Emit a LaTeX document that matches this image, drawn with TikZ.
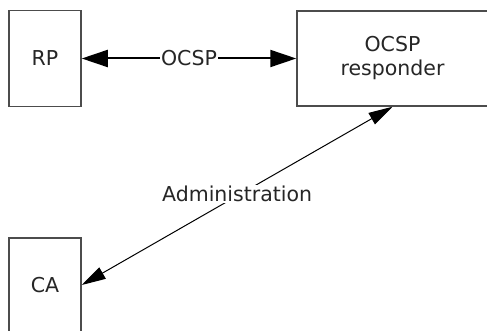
\documentclass[tikz,border=0pt]{standalone}
\usepackage{fontspec}
\setmainfont{DejaVu Sans}
\usepackage{xcolor}
\usetikzlibrary{arrows.meta}

\tikzset{
	box/.style={draw=black!70, line width=1.5pt, fill=white, text=black!85, align=center, inner sep=0pt},
	ocsplink/.style={line width=2pt, {Triangle[length=26pt,width=17pt]}-{Triangle[length=26pt,width=17pt]}},
	adminlink/.style={line width=1pt, {Triangle[length=24pt,width=13pt]}-{Triangle[length=24pt,width=13pt]}},
	lbl/.style={fill=white, text=black!85, inner sep=1pt}
}

\begin{document}
\begin{tikzpicture}[x=1pt, y=-1pt, font=\fontsize{20.5}{24}\selectfont]
		\useasboundingbox (0,0) rectangle (487,331);
		
		\node[box, minimum width=72pt, minimum height=96pt] (rp) at (45,58.5) {RP};
		\node[box, minimum width=191pt, minimum height=95pt] (resp) at (392.5,58.5) {OCSP\\responder};
		\node[box, minimum width=72pt, minimum height=94pt] (ca) at (45,285) {CA};
		
		\draw[ocsplink] (rp) -- node[lbl] {OCSP} (resp);
		\draw[adminlink] (ca.east) -- node[lbl, yshift=2pt] {Administration} (resp.south);
		\end{tikzpicture}
\end{document}
